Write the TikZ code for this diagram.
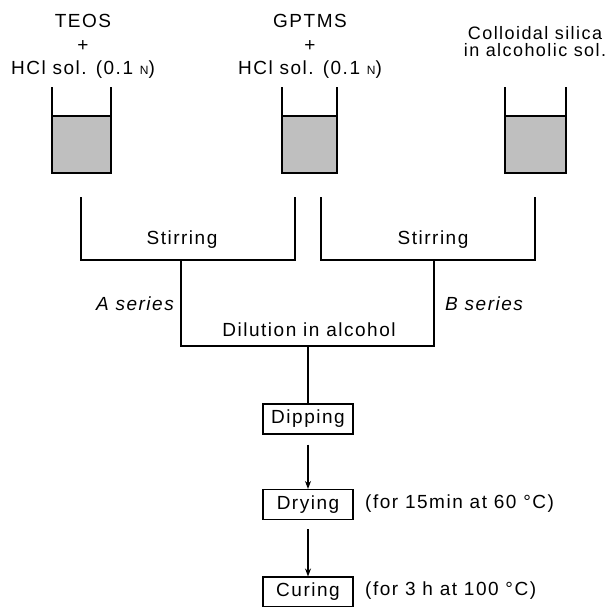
\documentclass[tikz,border=0pt]{standalone}
\usepackage{fontspec}
\setmainfont{Liberation Sans}[LetterSpace=8]
\usetikzlibrary{arrows.meta}
\definecolor{liquid}{gray}{0.75}
\newcommand{\drawbeaker}[2]{%
  \fill[liquid] (#1,116) rectangle (#2,173);
  \draw[line width=1.2pt] (#1,87) -- (#1,173) -- (#2,173) -- (#2,87);
  \draw[line width=1.2pt] (#1,116) -- (#2,116);
}
\begin{document}
\begin{tikzpicture}[x=1pt,y=-1pt,
  txt/.style={font=\fontsize{19}{22}\selectfont, inner sep=0pt},
  stepbox/.style={draw, line width=1.1pt, txt, minimum width=90pt, minimum height=30pt},
  conn/.style={line width=1.1pt},
  arr/.style={conn, -{Stealth[length=8pt,width=6pt]}}]
\useasboundingbox (0,0) rectangle (615,606);
% reagent labels
\node[txt] (teos) at (83,21) {TEOS};
\node[txt] (p1) at (83,46) {+};
\node[txt] (hcl1) at (83,70) {HCl sol. (0.1 {\fontsize{12}{12}\selectfont N})};
\node[txt] (gptms) at (310,21) {GPTMS};
\node[txt] (p2) at (310,46) {+};
\node[txt] (hcl2) at (310,70) {HCl sol. (0.1 {\fontsize{12}{12}\selectfont N})};
\node[txt, font=\fontsize{18}{17}\selectfont, align=center] (coll) at (535,41.5) {Colloidal silica\\in alcoholic sol.};
% beakers
\drawbeaker{52}{111}
\drawbeaker{282}{337}
\drawbeaker{505}{566}
% bracket coordinates
\coordinate (b1) at (81,197);
\coordinate (b2l) at (295,197);
\coordinate (b2r) at (321,197);
\coordinate (b3) at (535,197);
\coordinate (ja) at (181,260);
\coordinate (jb) at (434,260);
\coordinate (jd) at (308,346);
\draw[conn] (b1) -- (81,260) -- (295,260) -- (b2l);
\draw[conn] (b2r) -- (321,260) -- (535,260) -- (b3);
\draw[conn] (ja) -- (181,346) -- (434,346) -- (jb);
\node[txt] (stir1) at (182,240) {Stirring};
\node[txt] (stir2) at (433,240) {Stirring};
\node[txt, anchor=east] (aser) at (174,304) {\itshape A series};
\node[txt, anchor=west] (bser) at (445,304) {\itshape B series};
\node[txt] (dil) at (309,330) {Dilution in alcohol};
% process steps
\node[stepbox] (dip) at (308,419) {Dipping};
\node[stepbox] (dry) at (308,504.5) {Drying};
\node[stepbox] (cur) at (308,592) {Curing};
\draw[conn] (jd) -- (dip.north);
\draw[arr, shorten <=10pt] (dip.south) -- (dry.north);
\draw[arr, shorten <=9pt] (dry.south) -- (cur.north);
\node[txt, anchor=west] (c1) at (365,504) {(for 15min at 60 °C)};
\node[txt, anchor=west] (c2) at (365,591) {(for 3 h at 100 °C)};
\end{tikzpicture}
\end{document}
